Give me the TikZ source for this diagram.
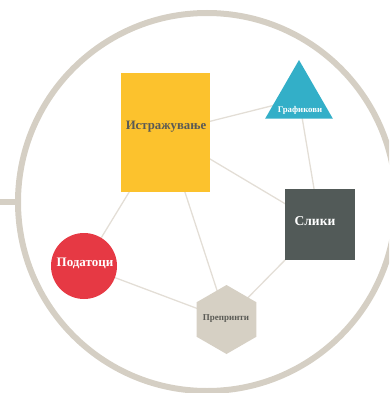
\documentclass[tikz,border=0pt]{standalone}
\usepackage{fontspec}
\setmainfont{Liberation Serif}
\usetikzlibrary{shapes.geometric,backgrounds}
\definecolor{ring}{HTML}{D5CFC4}
\definecolor{edgec}{HTML}{E3DED6}
\definecolor{yel}{HTML}{FCC22D}
\definecolor{tri}{HTML}{33AFC8}
\definecolor{dark}{HTML}{525A58}
\definecolor{redc}{HTML}{E63944}
\definecolor{hexc}{HTML}{D6D0C4}
\definecolor{txtd}{HTML}{5A5A55}
\tikzset{
  link/.style={draw=edgec, line width=1.3pt},
  lbl/.style={font=\bfseries, inner sep=0pt},
}
\begin{document}
\begin{tikzpicture}[x=1pt,y=-1pt]
\useasboundingbox (0,0) rectangle (389,393);
\clip (0,0) rectangle (389,393);
\draw[ring, line width=6pt] (207,202) circle[radius=189];
\draw[ring, line width=6pt] (0,202) -- (18,202);
\node[fill=yel, minimum width=89pt, minimum height=119pt, inner sep=0pt] (res) at (165.5,132.5) {};
\node[lbl, text=txtd, font=\bfseries\fontsize{12.8}{13}\selectfont] at (166,127) {Истражување};
\node[regular polygon, regular polygon sides=3, fill=tri, minimum size=78pt, inner sep=0pt] (gra) at (299,99) {};
\node[lbl, text=white, font=\bfseries\fontsize{8.8}{9}\selectfont] at (300,110) {Графикови};
\node[fill=dark, minimum width=70pt, minimum height=71pt, inner sep=0pt] (sli) at (320,224.5) {};
\node[lbl, text=white, font=\bfseries\fontsize{13.5}{14}\selectfont] at (315,221) {Слики};
\node[circle, fill=redc, minimum size=66pt, inner sep=0pt] (pod) at (84,266) {};
\node[lbl, text=white, font=\bfseries\fontsize{13}{14}\selectfont] at (85,263) {Податоци};
\node[regular polygon, regular polygon sides=6, rotate=30, fill=hexc, minimum size=69pt, inner sep=0pt] (pre) at (226.5,319.5) {};
\node[lbl, text=txtd, font=\bfseries\fontsize{9}{10}\selectfont] at (226,319) {Препринти};
\begin{scope}[on background layer]
\draw[link] (res.center) -- (gra.center);
\draw[link] (gra.center) -- (sli.center);
\draw[link] (res.center) -- (sli.center);
\draw[link] (res.center) -- (pod.center);
\draw[link] (res.center) -- (pre.center);
\draw[link] (pod.center) -- (pre.center);
\draw[link] (sli.center) -- (pre.center);
\end{scope}
\end{tikzpicture}
\end{document}
